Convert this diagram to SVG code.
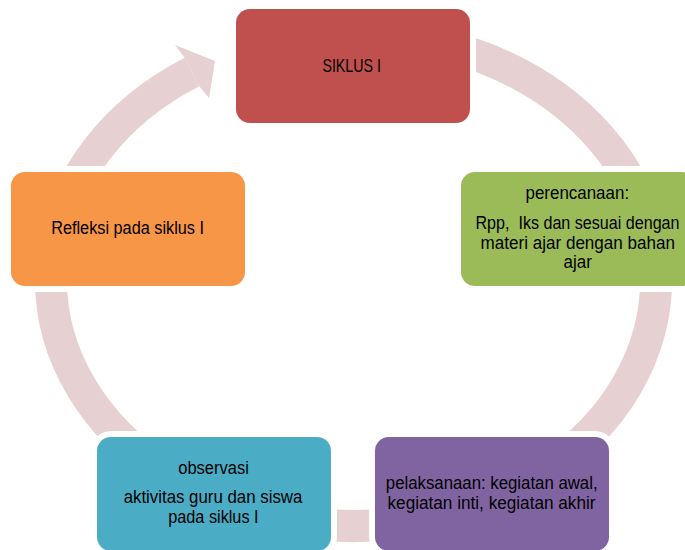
<svg xmlns="http://www.w3.org/2000/svg" width="685" height="550" viewBox="0 0 685 550">
<style>
.ring{fill:none;stroke:#E7D0D1;stroke-width:32;stroke-linecap:butt}
.head{fill:#E7D0D1}
.halo{fill:#FFFFFF}
.t{font-family:"Liberation Sans",Arial,sans-serif;font-size:17.5px;fill:#000;text-anchor:middle}
</style>
<rect width="685" height="550" fill="#FFFFFF"/>
<g id="connectors">
<path class="ring" d="M 192 72 A 302.5 246 0 1 0 352.5 34"/>
<polygon class="head" points="184.7,57.7 175,45 215,61 209,98 199.3,86.3"/>
</g>
<g id="node-siklus">
<rect class="halo" x="230" y="3" width="246" height="126" rx="20"/>
<rect x="236" y="9" width="234" height="114" rx="14" fill="#C0504D"/>
<text class="t" x="351.7" y="71.9" textLength="58.6" lengthAdjust="spacingAndGlyphs">SIKLUS I</text>
</g>
<g id="node-perencanaan">
<rect class="halo" x="455" y="166" width="246" height="126" rx="20"/>
<rect x="461" y="172" width="234" height="114" rx="14" fill="#9BBB59"/>
<text class="t" x="577.3" y="199" textLength="103.6" lengthAdjust="spacingAndGlyphs">perencanaan:</text>
<text class="t" x="577.5" y="228.7" textLength="204" lengthAdjust="spacingAndGlyphs" xml:space="preserve">Rpp,  Iks dan sesuai dengan</text>
<text class="t" x="577.8" y="249" textLength="194.4" lengthAdjust="spacingAndGlyphs">materi ajar dengan bahan</text>
<text class="t" x="577.8" y="268.3" textLength="28.4" lengthAdjust="spacingAndGlyphs">ajar</text>
</g>
<g id="node-pelaksanaan">
<rect class="halo" x="369" y="431" width="246" height="126" rx="20"/>
<rect x="375" y="437" width="234" height="114" rx="14" fill="#8064A2"/>
<text class="t" x="491.7" y="488.6" textLength="211.8" lengthAdjust="spacingAndGlyphs">pelaksanaan: kegiatan awal,</text>
<text class="t" x="491.5" y="508.6" textLength="208" lengthAdjust="spacingAndGlyphs">kegiatan inti, kegiatan akhir</text>
</g>
<g id="node-observasi">
<rect class="halo" x="91" y="431" width="246" height="126" rx="20"/>
<rect x="97" y="437" width="234" height="114" rx="14" fill="#4BACC6"/>
<text class="t" x="213.6" y="473.5" textLength="70.8" lengthAdjust="spacingAndGlyphs">observasi</text>
<text class="t" x="213" y="503.3" textLength="178.7" lengthAdjust="spacingAndGlyphs">aktivitas guru dan siswa</text>
<text class="t" x="213.4" y="523.3" textLength="90.4" lengthAdjust="spacingAndGlyphs">pada siklus I</text>
</g>
<g id="node-refleksi">
<rect class="halo" x="5" y="166" width="246" height="126" rx="20"/>
<rect x="11" y="172" width="234" height="114" rx="14" fill="#F79646"/>
<text class="t" x="127.6" y="234.3" textLength="152.9" lengthAdjust="spacingAndGlyphs">Refleksi pada siklus I</text>
</g>
</svg>
